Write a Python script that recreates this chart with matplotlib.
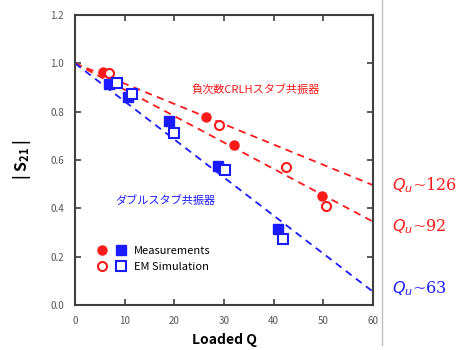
import numpy as np
import matplotlib
matplotlib.use("Agg")
import matplotlib.pyplot as plt
from matplotlib.lines import Line2D
from matplotlib.legend_handler import HandlerTuple

plt.rcParams['font.family'] = ['Noto Sans CJK JP', 'DejaVu Sans']

# measured / simulated |S21| vs loaded Q
crlh_meas_q = [5.6, 26.4, 32.0, 49.8]
crlh_meas_s = [0.964, 0.778, 0.662, 0.452]
crlh_sim_q = [6.9, 29.0, 42.5, 50.5]
crlh_sim_s = [0.961, 0.745, 0.572, 0.41]

dbl_meas_q = [6.9, 10.6, 18.9, 28.7, 40.8]
dbl_meas_s = [0.913, 0.862, 0.762, 0.576, 0.314]
dbl_sim_q = [8.5, 11.5, 19.9, 30.2, 41.8]
dbl_sim_s = [0.917, 0.873, 0.713, 0.558, 0.273]

# dashed fit lines (values at Q=0 and Q=60)
fit_q = [0, 60]
fit_126 = [1.0, 0.496]
fit_92 = [1.0, 0.345]
fit_63 = [1.0, 0.055]

red = '#ff1a1a'
blue = '#1a1aff'
axcol = '#404040'

fig = plt.figure(figsize=(4.63, 3.5), dpi=100)
ax = fig.add_axes([75 / 463, 1 - 305 / 350, 298 / 463, 290 / 350])

ax.plot(fit_q, fit_126, ls=(0, (4, 3)), color=red, lw=1.3)
ax.plot(fit_q, fit_92, ls=(0, (4, 3)), color=red, lw=1.3)
ax.plot(fit_q, fit_63, ls=(0, (4, 3)), color=blue, lw=1.3)

ax.plot(crlh_meas_q, crlh_meas_s, 'o', color=red, ms=6.5, ls='none')
ax.plot(crlh_sim_q, crlh_sim_s, 'o', mfc='white', mec=red, mew=1.5, ms=6.5, ls='none')
ax.plot(dbl_meas_q, dbl_meas_s, 's', color=blue, ms=6.5, ls='none')
ax.plot(dbl_sim_q, dbl_sim_s, 's', mfc='white', mec=blue, mew=1.5, ms=6.5, ls='none')

ax.set_xlim(0, 60)
ax.set_ylim(0, 1.2)
ax.set_xticks(np.arange(0, 61, 10))
ax.set_yticks(np.arange(0, 1.21, 0.2))
ax.set_yticklabels([f'{v:.1f}' for v in np.arange(0, 1.21, 0.2)])
ax.tick_params(direction='in', top=True, right=True, length=4, width=1.2,
               colors=axcol, labelsize=7, labelcolor='#555555', pad=8)
for sp in ax.spines.values():
    sp.set_color(axcol)
    sp.set_linewidth(1.5)

ax.set_xlabel('Loaded Q', fontsize=10, fontweight='bold', labelpad=5)
ax.set_ylabel('| S$_{\\mathregular{21}}$ |', fontsize=11.5, fontweight='bold', labelpad=12)

ax.text(23.5, 0.875, '負次数CRLHスタブ共振器', color=red, fontsize=8)
ax.text(8.2, 0.42, 'ダブルスタブ共振器', color=blue, fontsize=8)

handles = [
    (Line2D([], [], marker='o', color=red, ms=6.5, ls='none'),
     Line2D([], [], marker='s', color=blue, ms=6.5, ls='none')),
    (Line2D([], [], marker='o', mfc='white', mec=red, mew=1.5, ms=6.5, ls='none'),
     Line2D([], [], marker='s', mfc='white', mec=blue, mew=1.5, ms=6.5, ls='none')),
]
ax.legend(handles, ['Measurements', 'EM Simulation'],
          handler_map={tuple: HandlerTuple(ndivide=None, pad=0.9)},
          loc='lower left', bbox_to_anchor=(0.04, 0.08), frameon=False,
          fontsize=8, handlelength=2.6, handletextpad=0.7, labelspacing=0.55)

fig.add_artist(Line2D([382 / 463, 382 / 463], [1, 1 - 345 / 350],
                      color='#c0c0c0', lw=1.0, transform=fig.transFigure))

fig.text(392 / 463, 1 - 185 / 350, '$Q_u$~126', color=red, fontsize=11.5,
         family='DejaVu Serif', va='center')
fig.text(392 / 463, 1 - 227 / 350, '$Q_u$~92', color=red, fontsize=11.5,
         family='DejaVu Serif', va='center')
fig.text(392 / 463, 1 - 289 / 350, '$Q_u$~63', color=blue, fontsize=11.5,
         family='DejaVu Serif', va='center')

fig.savefig('out.png', dpi=100)
